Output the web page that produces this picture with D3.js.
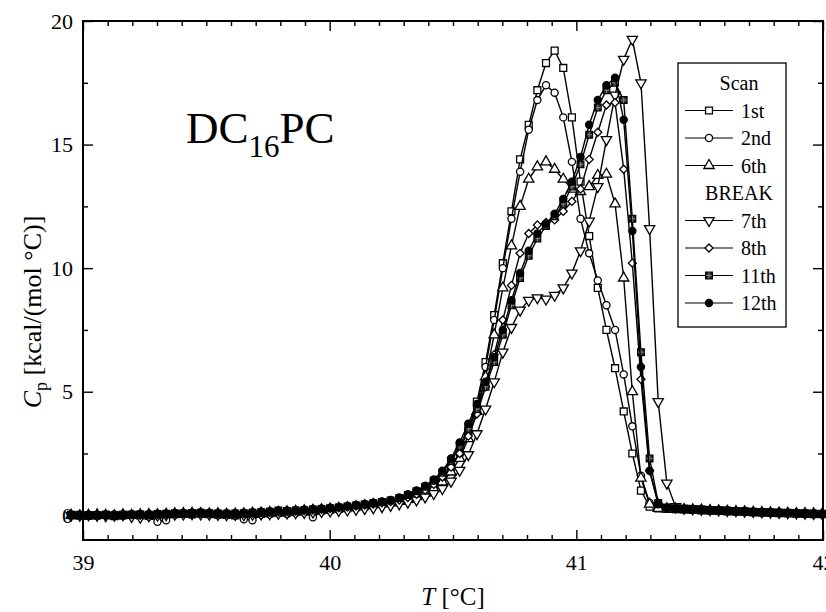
<!DOCTYPE html>
<html>
<head>
<meta charset="utf-8">
<script src="https://cdn.jsdelivr.net/npm/d3@7/dist/d3.min.js"></script>
<style>
  html, body { margin: 0; padding: 0; background: #fff; }
  svg { display: block; }
  text { font-family: "Liberation Serif", "Times New Roman", serif; fill: #000; }
</style>
</head>
<body>
<script>
// Sampling temperatures (°C), shared by every scan
const temperature = [
  38.952, 38.987, 39.022, 39.057, 39.092, 39.127, 39.162, 39.197, 39.232, 39.267,
  39.302, 39.337, 39.372, 39.407, 39.442, 39.477, 39.512, 39.547, 39.582, 39.617,
  39.652, 39.687, 39.722, 39.757, 39.792, 39.827, 39.862, 39.897, 39.932, 39.967,
  40.002, 40.037, 40.072, 40.107, 40.142, 40.177, 40.212, 40.247, 40.282, 40.317,
  40.352, 40.387, 40.422, 40.457, 40.492, 40.527, 40.562, 40.597, 40.632, 40.667,
  40.702, 40.737, 40.772, 40.807, 40.842, 40.877, 40.912, 40.947, 40.982, 41.017,
  41.052, 41.087, 41.122, 41.157, 41.192, 41.227, 41.262, 41.297, 41.332, 41.367,
  41.402, 41.437, 41.472, 41.507, 41.542, 41.577, 41.612, 41.647, 41.682, 41.717,
  41.752, 41.787, 41.822, 41.857, 41.892, 41.927, 41.962, 41.997
];

// Heat capacity Cp, kcal/(mol °C), one array per scan
const cp1st = [
  0.02, 0.00, -0.02, 0.00, 0.02, -0.03, 0.00, 0.02, 0.00, -0.02,
  0.00, 0.03, 0.05, 0.06, 0.04, 0.07, 0.05, 0.03, 0.02, 0.00,
  0.02, 0.04, 0.06, 0.08, 0.10, 0.11, 0.13, 0.15, 0.17, 0.20,
  0.23, 0.26, 0.29, 0.33, 0.37, 0.42, 0.47,
  0.52, 0.60, 0.70, 0.84, 1.00, 1.22, 1.52, 1.95, 2.55, 3.40,
  4.60, 6.20, 8.10, 10.2, 12.3, 14.4, 15.8, 17.2, 18.3, 18.8,
  18.1, 16.1, 13.5, 11.3, 9.2, 7.5, 5.95, 4.2, 2.5, 1.0,
  0.35, 0.28, 0.26, 0.25, 0.24, 0.22, 0.20, 0.19, 0.18, 0.16,
  0.15, 0.14, 0.12, 0.11, 0.10, 0.09, 0.08, 0.07, 0.06, 0.05, 0.05
];
const cp2nd = [
  0.00, 0.02, 0.00, -0.03, 0.00, 0.02, -0.02, 0.00, 0.00, -0.05,
  -0.26, -0.20, 0.02, 0.04, 0.06, 0.05, 0.04, 0.06, 0.03, 0.00,
  -0.16, -0.20, 0.03, 0.05, 0.07, 0.05, 0.10, 0.12, -0.08, 0.15,
  0.18, 0.21, 0.25, 0.28, 0.32, 0.36, 0.41,
  0.50, 0.58, 0.68, 0.82, 0.98, 1.20, 1.50, 1.90, 2.50, 3.30,
  4.40, 6.00, 7.90, 10.0, 12.0, 13.9, 15.6, 16.8, 17.4, 17.1,
  16.1, 14.3, 12.0, 10.6, 9.5, 8.5, 7.5, 5.7, 3.6, 1.6,
  0.5, 0.30, 0.27, 0.25, 0.24, 0.23, 0.21, 0.20, 0.18, 0.17,
  0.15, 0.14, 0.13, 0.12, 0.10, 0.09, 0.08, 0.07, 0.06, 0.06, 0.05
];
const cp6th = [
  0.00, -0.02, 0.00, 0.02, 0.00, -0.02, 0.02, 0.00, 0.02, 0.03,
  0.02, 0.04, 0.06, 0.07, 0.08, 0.07, 0.05, 0.06, 0.04, 0.05,
  0.06, 0.08, 0.09, 0.11, 0.12, 0.14, 0.16, 0.18, 0.20, 0.22,
  0.25, 0.28, 0.31, 0.35, 0.39, 0.44, 0.46,
  0.50, 0.56, 0.64, 0.76, 0.90, 1.08, 1.35, 1.75, 2.30, 3.10,
  4.20, 5.60, 7.30, 9.20, 10.9, 12.5, 13.6, 14.1, 14.3, 14.0,
  13.6, 13.2, 13.1, 13.3, 13.75, 13.8, 12.6, 9.6, 5.0, 1.5,
  0.45, 0.28, 0.26, 0.25, 0.23, 0.22, 0.21, 0.19, 0.18, 0.16,
  0.15, 0.14, 0.12, 0.11, 0.10, 0.09, 0.08, 0.07, 0.07, 0.06, 0.05
];
const cp7th = [
  0.00, 0.00, 0.02, 0.00, -0.02, 0.00, 0.02, -0.05, -0.08, -0.02,
  0.00, 0.02, 0.04, 0.05, 0.06, 0.05, 0.04, 0.03, 0.02, 0.03,
  0.02, 0.04, 0.05, 0.06, 0.08, 0.09, 0.10, 0.11, 0.13, 0.15,
  0.17, 0.19, 0.21, 0.24, 0.27, 0.30, 0.35,
  0.40, 0.46, 0.53, 0.62, 0.74, 0.88, 1.08, 1.38, 1.82, 2.45,
  3.30, 4.30, 5.40, 6.60, 7.60, 8.30, 8.70, 8.80, 8.75, 8.90,
  9.20, 9.80, 10.7, 11.9, 13.3, 15.2, 17.0, 18.45, 19.26, 17.5,
  11.6, 4.6, 1.3, 0.35, 0.28, 0.26, 0.24, 0.22, 0.21, 0.19,
  0.18, 0.16, 0.15, 0.13, 0.12, 0.11, 0.10, 0.09, 0.08, 0.07, 0.06
];
const cp8th = [
  0.02, 0.00, 0.00, 0.02, -0.02, 0.00, 0.02, 0.03, 0.00, 0.02,
  0.04, 0.05, 0.07, 0.08, 0.06, 0.08, 0.07, 0.05, 0.06, 0.05,
  0.07, 0.09, 0.10, 0.12, 0.14, 0.15, 0.17, 0.19, 0.21, 0.24,
  0.27, 0.30, 0.33, 0.37, 0.41, 0.45, 0.50,
  0.55, 0.62, 0.72, 0.85, 1.02, 1.25, 1.55, 1.95, 2.50, 3.20,
  4.10, 5.20, 6.50, 7.90, 9.30, 10.6, 11.4, 11.75, 11.85, 11.95,
  12.3, 12.7, 13.2, 14.4, 15.5, 16.6, 16.7, 14.0, 10.2, 5.5,
  1.8, 0.5, 0.30, 0.27, 0.25, 0.24, 0.22, 0.21, 0.19, 0.18,
  0.16, 0.15, 0.14, 0.12, 0.11, 0.10, 0.09, 0.08, 0.07, 0.06, 0.05
];
const cp11th = [
  0.00, 0.02, 0.00, 0.00, 0.02, 0.00, 0.03, 0.02, 0.04, 0.02,
  0.05, 0.06, 0.08, 0.07, 0.09, 0.10, 0.08, 0.07, 0.06, 0.07,
  0.08, 0.10, 0.12, 0.14, 0.20, 0.17, 0.19, 0.21, 0.24, 0.26,
  0.29, 0.32, 0.36, 0.40, 0.44, 0.49, 0.54,
  0.60, 0.70, 0.82, 0.97, 1.15, 1.40, 1.72, 2.20, 2.80, 3.50,
  4.30, 5.20, 6.20, 7.30, 8.50, 9.60, 10.5, 11.2, 11.7, 12.1,
  12.6, 13.3, 14.2, 15.4, 16.5, 17.2, 17.5, 16.8, 12.0, 6.6,
  2.3, 0.5, 0.32, 0.29, 0.27, 0.25, 0.24, 0.22, 0.20, 0.19,
  0.17, 0.16, 0.14, 0.13, 0.12, 0.11, 0.10, 0.09, 0.08, 0.07, 0.06
];
const cp12th = [
  0.02, 0.00, 0.02, 0.00, 0.02, 0.03, 0.02, 0.04, 0.03, 0.05,
  0.06, 0.05, 0.08, 0.09, 0.10, 0.12, 0.10, 0.09, 0.08, 0.09,
  0.10, 0.12, 0.14, 0.16, 0.18, 0.19, 0.21, 0.23, 0.26, 0.28,
  0.31, 0.34, 0.38, 0.42, 0.46, 0.51, 0.56,
  0.62, 0.72, 0.85, 1.00, 1.20, 1.45, 1.80, 2.30, 2.95, 3.70,
  4.50, 5.40, 6.40, 7.50, 8.70, 9.80, 10.7, 11.4, 11.8, 12.2,
  12.8, 13.5, 14.5, 15.8, 16.8, 17.4, 17.7, 16.0, 11.5, 6.0,
  1.8, 0.45, 0.30, 0.28, 0.26, 0.25, 0.23, 0.22, 0.20, 0.19,
  0.17, 0.16, 0.14, 0.13, 0.12, 0.11, 0.10, 0.09, 0.08, 0.07, 0.06
];

const scanNames = ["1st", "2nd", "6th", "7th", "8th", "11th", "12th"];
const scanValues = [cp1st, cp2nd, cp6th, cp7th, cp8th, cp11th, cp12th];
const scanMarkers = ["square", "circle", "triangleUp", "triangleDown", "diamond", "crossSquare", "dot"];

const legendRows = ["Scan", "1st", "2nd", "6th", "BREAK", "7th", "8th", "11th", "12th"];

const xMajorTicks = [39, 40, 41, 42];
const xTickLabels = ["39", "40", "41", "42"];
const yMajorTicks = [0, 5, 10, 15, 20];
const yTickLabels = ["0", "5", "10", "15", "20"];

// ---------------------------------------------------------------
const W = 826, H = 612;
const plot = { left: 83, right: 823, top: 21, bottom: 540 };

const x = d3.scaleLinear().domain([39, 42]).range([plot.left, plot.right]);
const y = d3.scaleLinear().domain([-1, 20]).range([plot.bottom, plot.top]);

const svg = d3.select("body").append("svg")
  .attr("width", W).attr("height", H)
  .attr("viewBox", `0 0 ${W} ${H}`);

// marker glyphs
function markerPath(kind) {
  switch (kind) {
    case "square": return d3.symbol(d3.symbolSquare, 48)();
    case "circle": return d3.symbol(d3.symbolCircle, 40)();
    case "triangleUp": return d3.symbol(d3.symbolTriangle, 46)();
    case "triangleDown": return d3.symbol(d3.symbolTriangle, 46)();
    case "diamond": return d3.symbol(d3.symbolSquare, 32)();
    case "crossSquare": return d3.symbol(d3.symbolSquare, 44)();
    case "dot": return d3.symbol(d3.symbolCircle, 40)();
  }
}
function markerTransform(kind, px, py) {
  if (kind === "triangleDown") return `translate(${px},${py}) rotate(180)`;
  if (kind === "diamond") return `translate(${px},${py}) rotate(45)`;
  return `translate(${px},${py})`;
}
function drawMarker(g, kind, px, py) {
  g.append("path")
    .attr("d", markerPath(kind))
    .attr("transform", markerTransform(kind, px, py))
    .attr("fill", kind === "dot" ? "#000" : (kind === "crossSquare" ? "#2a2a2a" : "#fff"))
    .attr("stroke", "#000")
    .attr("stroke-width", 1.3);
  if (kind === "crossSquare") {
    g.append("path")
      .attr("d", `M${px - 3},${py}H${px + 3}M${px},${py - 3}V${py + 3}`)
      .attr("stroke", "#999").attr("stroke-width", 0.8);
  }
}

// ---- curves -----------------------------------------------------
const curves = svg.append("g");
const line = d3.line()
  .x((d, i) => x(temperature[i]))
  .y(d => y(d));

scanValues.forEach((vals, s) => {
  const g = curves.append("g").attr("class", "scan-" + scanNames[s]);
  const n = Math.min(vals.length, temperature.length);
  const v = vals.slice(0, n);
  g.append("path")
    .attr("d", line(v))
    .attr("fill", "none")
    .attr("stroke", "#000")
    .attr("stroke-width", 1.4);
  v.forEach((c, i) => drawMarker(g, scanMarkers[s], x(temperature[i]), y(c)));
});

// ---- frame and ticks -------------------------------------------
const axes = svg.append("g");
axes.append("rect")
  .attr("x", plot.left).attr("y", plot.top)
  .attr("width", plot.right - plot.left).attr("height", plot.bottom - plot.top)
  .attr("fill", "none").attr("stroke", "#000").attr("stroke-width", 2);

const xMinor = d3.range(39, 42.001, 0.1).filter(t => !xMajorTicks.some(m => Math.abs(m - t) < 1e-6));
const yMinor = [2.5, 7.5, 12.5, 17.5];

function tickAxis(axisFn, scale, values, size, transform) {
  const a = axisFn(scale).tickValues(values).tickSize(-size).tickFormat("");
  const g = axes.append("g").attr("transform", transform).call(a);
  g.select(".domain").remove();
  g.selectAll(".tick line").attr("stroke", "#000").attr("stroke-width", 1.4);
  return g;
}
// bottom / top
tickAxis(d3.axisBottom, x, xMajorTicks, 10, `translate(0,${plot.bottom})`);
tickAxis(d3.axisBottom, x, xMinor, 5, `translate(0,${plot.bottom})`);
tickAxis(d3.axisTop, x, xMajorTicks, 10, `translate(0,${plot.top})`);
tickAxis(d3.axisTop, x, xMinor, 5, `translate(0,${plot.top})`);
// left / right
tickAxis(d3.axisLeft, y, yMajorTicks, 10, `translate(${plot.left},0)`);
tickAxis(d3.axisLeft, y, yMinor, 5, `translate(${plot.left},0)`);
tickAxis(d3.axisRight, y, yMajorTicks, 10, `translate(${plot.right},0)`);
tickAxis(d3.axisRight, y, yMinor, 5, `translate(${plot.right},0)`);

// tick labels
const xLab = axes.append("g").attr("transform", `translate(0,${plot.bottom})`)
  .call(d3.axisBottom(x).tickValues(xMajorTicks).tickSize(0).tickPadding(14)
    .tickFormat((d, i) => xTickLabels[i]));
xLab.select(".domain").remove();
xLab.selectAll("text").attr("font-size", 22).attr("font-family", "Liberation Serif, serif");

const yLab = axes.append("g").attr("transform", `translate(${plot.left},0)`)
  .call(d3.axisLeft(y).tickValues(yMajorTicks).tickSize(0).tickPadding(10)
    .tickFormat((d, i) => yTickLabels[i]));
yLab.select(".domain").remove();
yLab.selectAll("text").attr("font-size", 22).attr("font-family", "Liberation Serif, serif");

// axis titles
const xt = svg.append("text")
  .attr("x", 453).attr("y", 605)
  .attr("text-anchor", "middle").attr("font-size", 25);
xt.append("tspan").attr("font-style", "italic").text("T");
xt.append("tspan").text(" [°C]");

const yt = svg.append("text")
  .attr("transform", "translate(41,312) rotate(-90)")
  .attr("text-anchor", "middle").attr("font-size", 26);
yt.append("tspan").attr("font-style", "italic").text("C");
yt.append("tspan").attr("font-size", 18).attr("dy", 6).text("p");
yt.append("tspan").attr("dy", -6).text(" [kcal/(mol °C)]");

// sample label
const title = svg.append("text")
  .attr("x", 186).attr("y", 143).attr("font-size", 45);
title.append("tspan").text("DC");
title.append("tspan").attr("font-size", 31).attr("dy", 14).text("16");
title.append("tspan").attr("dy", -14).text("PC");

// ---- legend ----------------------------------------------------
const legend = svg.append("g");
const lg = { left: 678, right: 786, top: 63, rowTop: 83, rowStep: 27.5 };
const lgBottom = lg.rowTop + lg.rowStep * (legendRows.length - 1) + 24;
legend.append("rect")
  .attr("x", lg.left).attr("y", lg.top)
  .attr("width", lg.right - lg.left).attr("height", lgBottom - lg.top)
  .attr("fill", "#fff").attr("stroke", "#000").attr("stroke-width", 1.3);

legendRows.forEach((name, r) => {
  const cy = lg.rowTop + r * lg.rowStep;
  const s = scanNames.indexOf(name);
  if (s < 0) {
    legend.append("text")
      .attr("x", 739).attr("y", cy + 7)
      .attr("text-anchor", "middle").attr("font-size", 20)
      .text(name);
    return;
  }
  const g = legend.append("g");
  g.append("line")
    .attr("x1", 685).attr("x2", 733).attr("y1", cy).attr("y2", cy)
    .attr("stroke", "#000").attr("stroke-width", 1.2);
  drawMarker(g, scanMarkers[s], 709, cy);
  legend.append("text")
    .attr("x", 741).attr("y", cy + 7)
    .attr("font-size", 20)
    .text(name);
});
</script>
</body>
</html>
